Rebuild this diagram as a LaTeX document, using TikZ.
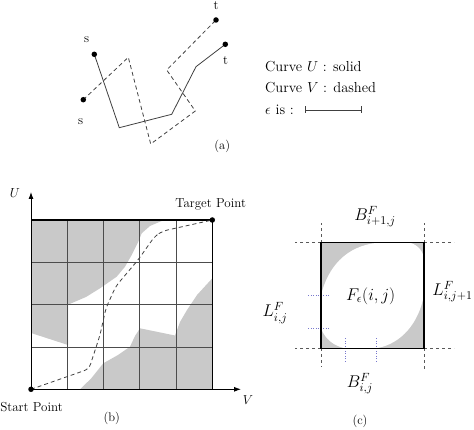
\RequirePackage{fix-cm}
\documentclass[tikz,border=0pt]{standalone}
\usepackage{fontspec}
\usetikzlibrary{arrows.meta}
\definecolor{regiongray}{gray}{0.79}
\definecolor{dotblue}{RGB}{120,120,205}
\begin{document}
\begin{tikzpicture}[x=1pt,y=-1pt,
  curveU/.style={draw=black!75, line width=0.8pt},
  curveV/.style={draw=black!75, line width=0.8pt, dash pattern=on 4pt off 3pt},
  dot/.style={circle, fill=black, inner sep=0pt, minimum size=5.5pt},
  lab/.style={font=\fontsize{13}{15}\selectfont, inner sep=0pt},
  leg/.style={font=\fontsize{14.5}{17}\selectfont, inner sep=0pt, anchor=west},
  mlab/.style={font=\fontsize{17}{20}\selectfont, inner sep=0pt},
  captext/.style={font=\fontsize{12.5}{15}\selectfont, inner sep=0pt},
  gridline/.style={draw=black!70, line width=0.8pt},
  border/.style={draw=black, line width=1.3pt},
  axis/.style={draw=black, line width=0.9pt, -{Latex[length=7pt,width=5pt]}},
  ext/.style={draw=black!65, line width=0.6pt, dash pattern=on 3pt off 3pt},
  bluedot/.style={draw=dotblue, line width=0.7pt, dash pattern=on 1pt off 1.5pt},
]
\useasboundingbox (0,0) rectangle (474,430);

% ---------------- (a) ----------------
\coordinate (u1) at (119.3,127.7);
\coordinate (u2) at (171.7,114.3);
\coordinate (u3) at (196,66.7);
\coordinate (v1) at (128.3,57.3);
\coordinate (v2) at (150.7,144);
\coordinate (v3) at (195.3,111);
\coordinate (v4) at (166.7,70);
\coordinate (s1p) at (94.3,54.3);
\coordinate (t1p) at (225.3,44.3);
\coordinate (s2p) at (83.3,99.7);
\coordinate (t2p) at (216,20);
\draw[curveU] (s1p) -- (u1) -- (u2) -- (u3) -- (t1p);
\draw[curveV] (s2p) -- (v1) -- (v2) -- (v3) -- (v4) -- (t2p);
\node[dot] (s1) at (s1p) {};
\node[dot] (t1) at (t1p) {};
\node[dot] (s2) at (s2p) {};
\node[dot] (t2) at (t2p) {};
\node[lab] (s1l) at (86.7,40) {s};
\node[lab] (s2l) at (80.7,121.7) {s};
\node[lab] (t1l) at (225.7,61) {t};
\node[lab] (t2l) at (216,5.5) {t};
\node[captext] (capa) at (222.3,146.7) {(a)};

% legend
\node[leg] (legU) at (265,66.7) {Curve $U$ : solid};
\node[leg] (legV) at (265,87.3) {Curve $V$ : dashed};
\node[leg] (lege) at (265,110) {$\epsilon$ is :};
\coordinate (ea) at (305,110);
\coordinate (eb) at (361,110);
\draw[draw=black!75, line width=0.6pt] (ea) -- (eb);
\draw[draw=black!75, line width=0.6pt] (ea) ++(0,-3.5) -- ++(0,7);
\draw[draw=black!75, line width=0.6pt] (eb) ++(0,-3.5) -- ++(0,7);

% ---------------- (b) ----------------
\fill[regiongray] (31,220) -- (164,220) -- (150,226) -- (141.7,233.3) -- (138.3,241.7)
  -- (131.7,255) -- (125,266.7) -- (116.7,276.7) -- (100,288.3) -- (86,297)
  -- (68,304.7) -- (68,345) -- (31,333) -- cycle;
\fill[regiongray] (80,389.3) -- (91.3,378.3) -- (103.3,363.3) -- (118,355)
  -- (130,346.7) -- (135,336) -- (140,328.3) -- (175,335.5) -- (180,322)
  -- (187,310) -- (197,295) -- (212.3,278.3) -- (212.3,389.3) -- cycle;
\foreach \x in {67.3,103.5,139.8,176} \draw[gridline] (\x,220) -- (\x,389.3);
\foreach \y in {262.3,304.7,347} \draw[gridline] (31,\y) -- (212.3,\y);
\coordinate (O) at (31,389.3);
\coordinate (TR) at (212.3,220);
\coordinate (TL) at (31,220);
\coordinate (BR) at (212.3,389.3);
\coordinate (Uend) at (31,192);
\coordinate (Vend) at (241,389.3);
\draw[border] (TL) -- (TR) -- (BR);
\draw[axis] (O) -- (Uend);
\draw[axis] (O) -- (Vend);
\node[lab] (Ul) at (15,193) {$U$};
\node[lab] (Vl) at (248,400) {$V$};
\draw[curveV, rounded corners=5pt] (O) -- (89,369) -- (100,335) -- (106,308) -- (116,286)
  -- (138,260) -- (155,236) -- (163,231) -- (TR);
\node[dot] (start) at (O) {};
\node[dot] (target) at (TR) {};
\node[lab] (startl) at (31.5,406.7) {Start Point};
\node[lab] (targetl) at (210.7,204.3) {Target Point};
\node[captext] (capb) at (111.7,418.3) {(b)};

% ---------------- (c) ----------------
\coordinate (c1) at (321,242.7);
\coordinate (c2) at (424,242.7);
\coordinate (c3) at (424,348.3);
\coordinate (c4) at (321,348.3);
\fill[regiongray] (c1) rectangle (c3);
\fill[white] (321,295) .. controls (328,268) and (345,246) .. (378,242.7) -- (410,242.7)
  .. controls (418,245) and (424,252) .. (424,260) -- (424,295)
  .. controls (419,322) and (402,344) .. (376,348.3) -- (345,348.3)
  .. controls (334,346) and (325,339) .. (321,328.3) -- cycle;
\draw[ext] (c1) -- ++(-26,0);
\draw[ext] (c1) -- ++(0,-20);
\draw[ext] (c2) -- ++(30,0);
\draw[ext] (c2) -- ++(0,-20);
\draw[ext] (c3) -- ++(30,0);
\draw[ext] (c3) -- ++(0,24);
\draw[ext] (c4) -- ++(-26,0);
\draw[ext] (c4) -- ++(0,19);
\draw[bluedot] (308.3,295) -- (329.3,295);
\draw[bluedot] (308.3,328.8) -- (329.3,328.8);
\draw[bluedot] (345,338.3) -- (345,363.3);
\draw[bluedot] (376,338.3) -- (376,362);
\draw[border] (c1) rectangle (c3);
\node[mlab] (Ftop) at (375,216.7) {$B^F_{i+1,j}$};
\node[mlab] (Fright) at (452.5,291.7) {$L^F_{i,j+1}$};
\node[mlab] (Fleft) at (275,313) {$L^F_{i,j}$};
\node[mlab] (Fbot) at (360,383.3) {$B^F_{i,j}$};
\node[mlab] (Fmid) at (370.7,296) {$F_\epsilon(i,j)$};
\node[captext] (capc) at (360,421.7) {(c)};
\end{tikzpicture}
\end{document}
